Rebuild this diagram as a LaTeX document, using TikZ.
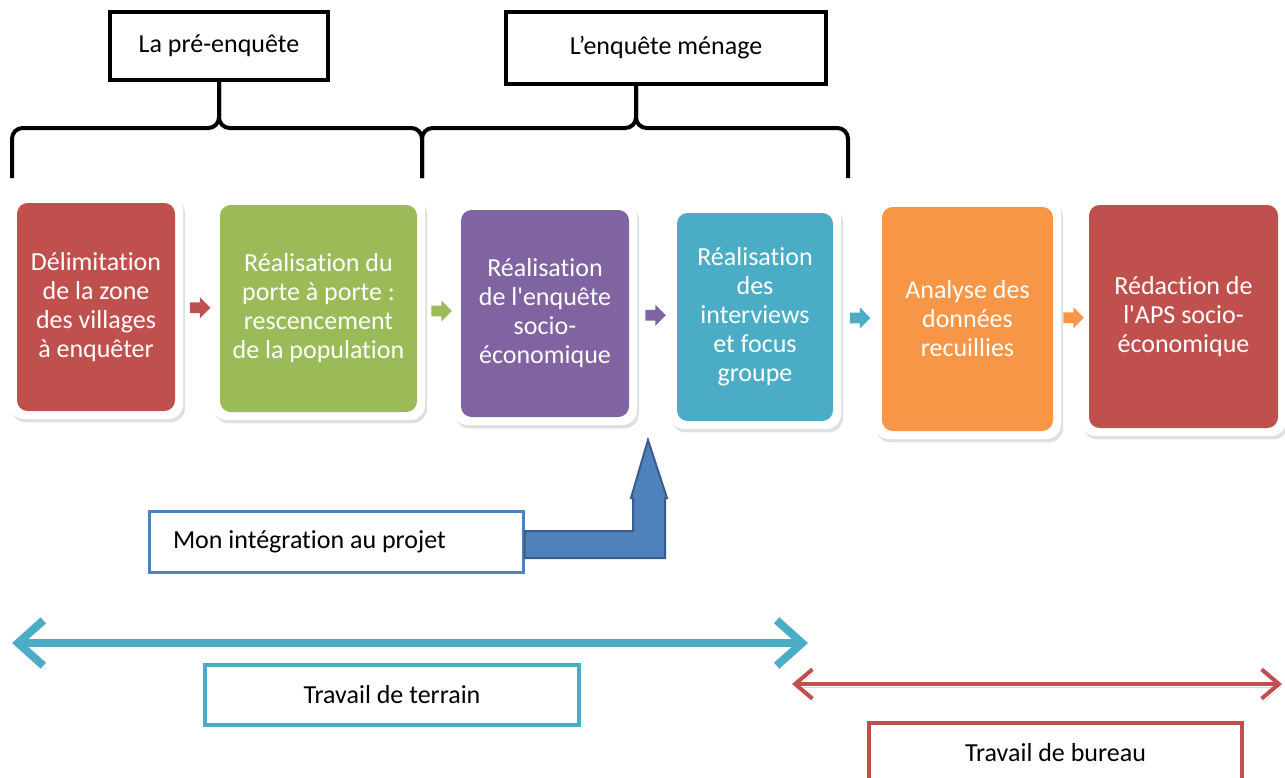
\documentclass[tikz,border=0pt]{standalone}
\usepackage{fontspec}
\setmainfont{Carlito}[Ligatures={TeX,NoCommon}, RawFeature={-calt}]
\usetikzlibrary{positioning,calc,shapes.arrows,shadows,arrows.meta}
\definecolor{redbox}{HTML}{C0504D}
\definecolor{greenbox}{HTML}{9BBB59}
\definecolor{purplebox}{HTML}{8064A2}
\definecolor{tealbox}{HTML}{4BACC6}
\definecolor{orangebox}{HTML}{F79646}
\definecolor{bluebox}{HTML}{4F81BD}
\definecolor{darkblue}{HTML}{385D8A}

\tikzset{
  sz/.style 2 args={minimum width=#1*0.75pt, minimum height=#2*0.75pt},
  stage/.style={fill=white, rounded corners=11pt, text=white,
    align=center, inner sep=2pt, font=\fontsize{19.5}{21.75}\selectfont,
    drop shadow={opacity=0.25, shadow xshift=1.5pt, shadow yshift=-2.5pt},
    path picture={\fill[#1, rounded corners=8pt]
      ($(path picture bounding box.south west)+(6pt,6pt)$) rectangle
      ($(path picture bounding box.north east)-(6pt,6pt)$);}},
  joinarrow/.style={single arrow, single arrow head extend=4pt,
    inner sep=3.75pt, minimum height=15.5pt},
  tagbox/.style={draw, line width=3pt, font=\fontsize{19.5}{21.75}\selectfont, inner sep=2pt},
  brace/.style={draw, line width=3pt, rounded corners=8pt},
  span/.style={line width=#1, preaction={draw=black, opacity=0.15,
    transform canvas={xshift=1.5pt, yshift=-2.5pt}}},
}

\begin{document}
\begin{tikzpicture}[x=0.75pt, y=-0.75pt]
\useasboundingbox (0,0) rectangle (1285,778);

% process steps
\node (A) [stage=redbox, sz={174}{224}] at (96,307) {Délimitation\\de la zone\\des villages\\à enquêter};
\node (B) [stage=greenbox, sz={213}{223}] at (318.5,308.5) {Réalisation du\\porte à porte :\\rescencement\\de la population};
\node (C) [stage=purplebox, sz={184}{223}] at (545,313.5) {Réalisation\\de l\textquotesingle enquête\\socio-\\économique};
\node (D) [stage=tealbox, sz={172}{224}] at (755,317) {Réalisation\\des\\interviews\\et focus\\groupe};
\node (E) [stage=orangebox, sz={187}{240}] at (967.5,319) {Analyse des\\données\\recuillies};
\node (F) [stage=redbox, sz={205}{239}] at (1183.5,316.5) {Rédaction de\\l\textquotesingle APS socio-\\économique};

\node [joinarrow, fill=redbox] at ($(A.east)!0.5!(B.west)$) {};
\node [joinarrow, fill=greenbox] at ($(B.east)!0.5!(C.west)$) {};
\node [joinarrow, fill=purplebox] at ($(C.east)!0.5!(D.west)$) {};
\node [joinarrow, fill=tealbox] at ($(D.east)!0.5!(E.west)$) {};
\node [joinarrow, fill=orangebox] at ($(E.east)!0.5!(F.west)$) {};

% phases on top
\node (P) [tagbox, sz={218}{68}] at (219,46) {La pré-enquête};
\node (Q) [tagbox, sz={320}{72}] at (666,48) {L’enquête ménage};
\draw [brace] (12,178) |- (P.south |- 0,128) -- (P.south);
\draw [brace] (422,178) |- (P.south |- 0,128) -- (P.south);
\draw [brace] (422,178) |- (636,128) -- (Q.south -| 636,0);
\draw [brace] (848,178) |- (636,128) -- (Q.south -| 636,0);

% integration
\node (M) [tagbox, draw=bluebox, line width=2.25pt, sz={374}{61}, text width=326*0.75pt,
  align=flush left, inner xsep=24*0.75pt] at (336,541.5) {Mon intégration au projet};
\filldraw [fill=bluebox, draw=darkblue, line width=1.5pt]
  (M.east |- 0,531) -- (633,531) -- (633,498) -- (631,498) -- (648,440)
  -- (667,498) -- (665,498) -- (665,558) -- (M.east |- 0,558) -- cycle;

% field work / office work
\coordinate (T1) at (12,643);
\coordinate (T2) at (808,643);
\coordinate (U1) at (792,684);
\coordinate (U2) at (1282,684);
\draw [span=6pt, draw=tealbox, {Straight Barb[length=19pt,width=34pt]}-{Straight Barb[length=19pt,width=34pt]}] (T1) -- (T2);
\draw [span=3pt, draw=redbox, {Straight Barb[length=13pt,width=22pt]}-{Straight Barb[length=13pt,width=22pt]}] (U1) -- (U2);
\node (T) [tagbox, draw=tealbox, sz={374}{60}] at (392,695) {Travail de terrain};
\node (U) [tagbox, draw=redbox, sz={373}{60}] at (1055.5,753) {Travail de bureau};
\end{tikzpicture}
\end{document}
